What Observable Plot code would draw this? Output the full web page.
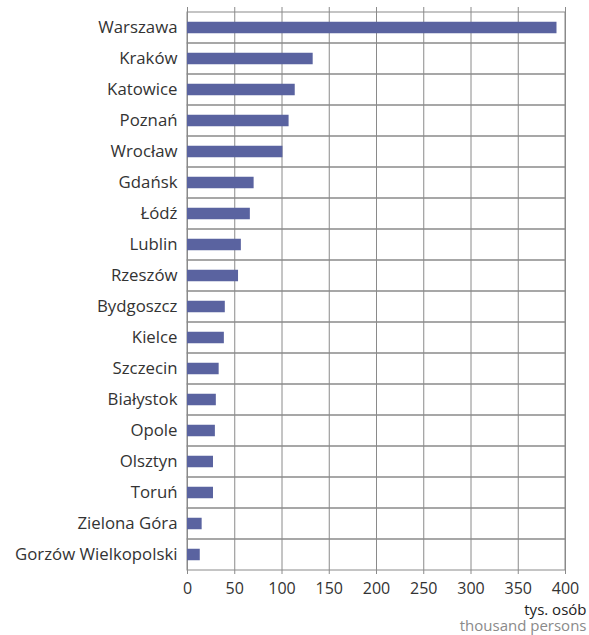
<!DOCTYPE html>
<html>
<head>
<meta charset="utf-8">
<script src="https://cdn.jsdelivr.net/npm/d3@7"></script>
<script src="https://cdn.jsdelivr.net/npm/@observablehq/plot@0.6"></script>
<style>
  html, body { margin: 0; padding: 0; background: #fff; }
  svg { display: block; }
</style>
</head>
<body>
<div id="chart"></div>
<script>
const cities = ["Warszawa","Kraków","Katowice","Poznań","Wrocław","Gdańsk","Łódź","Lublin","Rzeszów","Bydgoszcz","Kielce","Szczecin","Białystok","Opole","Olsztyn","Toruń","Zielona Góra","Gorzów Wielkopolski"];
const values = [391, 133, 114, 107.5, 101, 70.5, 66.5, 57, 54, 40, 39, 33.5, 30.5, 29.5, 27.5, 27.5, 15.5, 13.5];
const xTicks = [0, 50, 100, 150, 200, 250, 300, 350, 400];
const unitLabels = ["tys. osób", "thousand persons"];

const data = cities.map((c, i) => ({city: c, value: values[i]}));
const font = "'Open Sans', 'Noto Sans', sans-serif";

const chart = Plot.plot({
  width: 589,
  height: 635,
  marginLeft: 187,
  marginRight: 24,
  marginTop: 7,
  marginBottom: 61,
  style: {fontFamily: font, fontSize: "16px", color: "#333", background: "#fff"},
  x: {domain: [0, 400], ticks: xTicks, label: null},
  y: {domain: cities, padding: 0, label: null},
  marks: [
    Plot.ruleX(xTicks, {stroke: "#8a8a8a", strokeWidth: 1}),
    Plot.barX(cities, {x1: 0, x2: 400, y: d => d, fill: "none", stroke: "#8a8a8a", strokeWidth: 1}),
    Plot.barX(data, {x: "value", y: "city", fill: "#5a63a0", insetTop: 9.75, insetBottom: 9.75}),
    Plot.axisY({tickSize: 0, tickPadding: 10, fontSize: 16.8, fill: "#333", label: null}),
    Plot.axisX({ticks: xTicks, tickSize: 0, tickPadding: 8, fontSize: 16, fill: "#333", label: null}),
    Plot.text([unitLabels[0]], {frameAnchor: "bottom-right", text: d => d, dx: 21, dy: 40, fill: "#222", fontSize: 15, textAnchor: "end"}),
    Plot.text([unitLabels[1]], {frameAnchor: "bottom-right", text: d => d, dx: 21, dy: 56.5, fill: "#8a8a8a", fontSize: 15, textAnchor: "end"})
  ]
});
document.getElementById("chart").appendChild(chart);
</script>
</body>
</html>
